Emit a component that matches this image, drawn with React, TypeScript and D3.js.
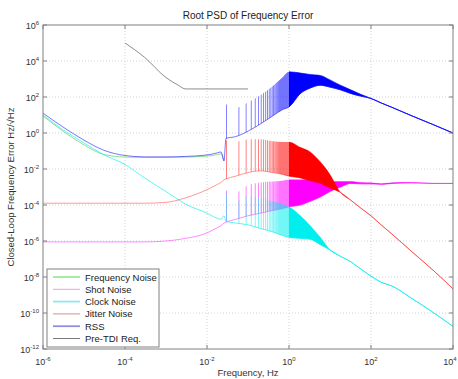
import * as d3 from "d3";

const W = 458;
const H = 379;

// low-frequency part, below the first resonance (Hz)
const freqLow = [1e-6, 3e-6, 1e-5, 3e-5, 1e-4, 3e-4, 1e-3, 3e-3, 1e-2, 1.8e-2, 2.2e-2, 2.6e-2];
const freqNoiseLow = [8.9, 1.32, 0.22, 0.065, 0.046, 0.044, 0.044, 0.046, 0.052, 0.063, 0.07, 0.03];
const shotLow = [8.9e-7, 8.9e-7, 8.9e-7, 8.9e-7, 8.9e-7, 8.9e-7, 1e-6, 1.4e-6, 2.8e-6, 5.6e-6, 7.1e-6, 1e-5];
const clockLow = [10, 1.58, 0.28, 0.063, 0.0178, 3.2e-3, 5.6e-4, 1.12e-4, 3.5e-5, 1.8e-5, 1.6e-5, 2.5e-5];
const jitterLow = [1.26e-4, 1.26e-4, 1.26e-4, 1.26e-4, 1.26e-4, 1.26e-4, 1.4e-4, 2.5e-4, 7.1e-4, 1.4e-3, 1.8e-3, 2.5e-3];
const rssLow = [12.6, 2.24, 0.4, 0.112, 0.056, 0.047, 0.047, 0.05, 0.06, 0.079, 0.089, 0.028];

// resonance comb and high-frequency envelopes (troughs = lower, peaks = upper)
const hiFreq = [0.029, 0.05, 0.1, 0.2, 0.4, 0.7, 1, 1.9, 3.3, 5.8, 10, 18, 32, 56, 100, 180, 320, 1000, 3200, 10000];
const rssUpper = [40, 25, 50, 126, 400, 1260, 2510, 2140, 1780, 1580, 890, 450, 250, 141, 83, 46, 27, 8.9, 3.0, 1.0];
const rssLower = [0.5, 0.63, 1.26, 3.16, 8.9, 20, 28, 158, 316, 450, 355, 250, 158, 112, 83, 46, 27, 8.9, 3.0, 1.0];
const jitterUpper = [0.4, 0.32, 0.45, 0.45, 0.35, 0.32, 0.32, 0.16, 0.089, 0.025, 5e-3, 5e-4, 1.86e-4, 6.8e-5, 2.5e-5, 7.6e-6, 2.5e-6, 2.5e-7, 2.5e-8, 2.2e-9];
const jitterLower = [2.8e-3, 4e-3, 6.3e-3, 7.9e-3, 6.3e-3, 5e-3, 4e-3, 3.2e-3, 2.2e-3, 1.6e-3, 8.9e-4, 5e-4, 1.86e-4, 6.8e-5, 2.5e-5, 7.6e-6, 2.5e-6, 2.5e-7, 2.5e-8, 2.2e-9];
const shotUpper = [6.3e-4, 5e-4, 1.26e-3, 1.78e-3, 2e-3, 2.24e-3, 2.5e-3, 2.5e-3, 2.4e-3, 2.24e-3, 2e-3, 2e-3, 2e-3, 1.78e-3, 1.7e-3, 1.5e-3, 1.7e-3, 1.78e-3, 1.58e-3, 1.58e-3];
const shotLower = [1.12e-5, 1.6e-5, 2.5e-5, 3.5e-5, 5e-5, 6.3e-5, 7.9e-5, 1e-4, 1.6e-4, 2.8e-4, 5.6e-4, 1e-3, 1.58e-3, 1.5e-3, 1.5e-3, 1.4e-3, 1.58e-3, 1.7e-3, 1.58e-3, 1.58e-3];
const clockUpper = [5e-4, 1.6e-4, 3.2e-4, 2.5e-4, 1.6e-4, 1.12e-4, 7.9e-5, 2.5e-5, 7.1e-6, 1.6e-6, 3.2e-7, 1.4e-7, 7.1e-8, 2.8e-8, 1.12e-8, 5e-9, 3.2e-9, 6.3e-10, 1.12e-10, 1.8e-11];
const clockLower = [1.26e-5, 1e-5, 7.9e-6, 5e-6, 3.2e-6, 2e-6, 1.6e-6, 1.4e-6, 1.26e-6, 6.3e-7, 3.2e-7, 1.4e-7, 7.1e-8, 2.8e-8, 1.12e-8, 5e-9, 3.2e-9, 6.3e-10, 1.12e-10, 1.8e-11];

// resonance frequencies of the comb (Hz)
const resonances = [0.03, 0.06, 0.09, 0.12, 0.15, 0.18, 0.21, 0.24, 0.27, 0.3, 0.33, 0.36, 0.39, 0.42, 0.45, 0.48, 0.51, 0.54, 0.57, 0.6, 0.63, 0.66, 0.69, 0.72, 0.75, 0.78, 0.81, 0.84, 0.87, 0.9, 0.93, 0.96, 0.99];

// Pre-TDI requirement
const reqFreq = [1e-4, 3e-4, 1e-3, 2e-3, 3e-3, 0.1];
const reqValue = [1e5, 1.6e4, 1.2e3, 450, 280, 280];

const xExponents = [-6, -4, -2, 0, 2, 4];
const yExponents = [-12, -10, -8, -6, -4, -2, 0, 2, 4, 6];

const legendItems = [
  { label: "Frequency Noise", color: "#8fe88f", width: 1.6 },
  { label: "Shot Noise", color: "#e8a0d8", width: 1 },
  { label: "Clock Noise", color: "#8ee8e8", width: 1.8 },
  { label: "Jitter Noise", color: "#d89090", width: 1 },
  { label: "RSS", color: "#9090e0", width: 1.8 },
  { label: "Pre-TDI Req.", color: "#555", width: 0.8 },
];

const FONT = "'Liberation Sans', Arial, sans-serif";

export default function App() {
  const x = d3.scaleLog().domain([1e-6, 1e4]).range([43, 453]);
  const y = d3.scaleLog().domain([1e-12, 1e6]).range([349, 25]);
  const [x0, x1] = x.range();
  const [y0, y1] = y.range();

  const line = d3.line<[number, number]>().x(d => x(d[0])).y(d => y(d[1])).curve(d3.curveMonotoneX);
  const area = d3.area<[number, number, number]>()
    .x(d => x(d[0])).y0(d => y(d[1])).y1(d => y(d[2])).curve(d3.curveMonotoneX);
  const zip = (f: number[], v: number[]) => f.map((fi, i) => [fi, v[i]] as [number, number]);
  const zip3 = (f: number[], lo: number[], hi: number[]) => f.map((fi, i) => [fi, lo[i], hi[i]] as [number, number, number]);

  const combSeries = [
    { key: "shot", color: "#ff00ff", low: shotLow, lower: shotLower, upper: shotUpper, op: 0.5, tail: 0.5 },
    { key: "clock", color: "#00eeee", low: clockLow, lower: clockLower, upper: clockUpper, op: 0.7, tail: 0.5 },
    { key: "jitter", color: "#ff0000", low: jitterLow, lower: jitterLower, upper: jitterUpper, op: 0.45, tail: 0.35 },
    { key: "rss", color: "#0000ff", low: rssLow, lower: rssLower, upper: rssUpper, op: 0.6, tail: 0.8 },
  ];

  const sup = (e: number) => (
    <>
      <tspan>10</tspan>
      <tspan dy={-4} fontSize={6}>{e}</tspan>
    </>
  );

  return (
    <svg width={W} height={H} style={{ position: "absolute", left: 0, top: 0, background: "#fff" }} fontFamily={FONT}>
      <defs>
        <clipPath id="plot">
          <rect x={x0} y={y1} width={x1 - x0} height={y0 - y1} />
        </clipPath>
        <clipPath id="stripes">
          {resonances.map(f => (
            <rect key={f} x={x(f) - 0.45} y={y1} width={0.9} height={y0 - y1} />
          ))}
        </clipPath>
        <clipPath id="band">
          <rect x={x(1)} y={y1} width={x1 - x(1)} height={y0 - y1} />
        </clipPath>
      </defs>

      <rect x={0} y={0} width={W} height={H} fill="#fff" />

      {/* grid */}
      <g stroke="#c8c8c8" strokeWidth={0.8} strokeDasharray="1,2">
        {xExponents.slice(1, -1).map(e => (
          <line key={e} x1={x(10 ** e)} x2={x(10 ** e)} y1={y1} y2={y0} />
        ))}
        {yExponents.slice(1, -1).map(e => (
          <line key={e} x1={x0} x2={x1} y1={y(10 ** e)} y2={y(10 ** e)} />
        ))}
      </g>

      <g clipPath="url(#plot)" fill="none">
        <path d={line(zip(freqLow, freqNoiseLow)) ?? ""} stroke="#44cc44" strokeOpacity={0.6} strokeWidth={1} />
        {combSeries.map(s => (
          <g key={s.key}>
            <path
              d={line(zip(freqLow, s.low).concat(zip(hiFreq, s.lower))) ?? ""}
              stroke={s.color}
              strokeOpacity={s.op}
              strokeWidth={0.9}
            />
            <path d={area(zip3(hiFreq, s.lower, s.upper)) ?? ""} fill={s.color} fillOpacity={0.55} clipPath="url(#stripes)" />
            <path
              d={area(zip3(hiFreq, s.lower, s.upper)) ?? ""}
              fill={s.color}
              stroke={s.color}
              strokeOpacity={0.8}
              strokeWidth={s.tail}
              clipPath="url(#band)"
            />
          </g>
        ))}
        <path d={line(zip(reqFreq, reqValue)) ?? ""} stroke="#333" strokeOpacity={0.8} strokeWidth={0.7} />
      </g>

      {/* axes box and ticks */}
      <rect x={x0} y={y1} width={x1 - x0} height={y0 - y1} fill="none" stroke="#808080" strokeWidth={1} />
      <g stroke="#808080" strokeWidth={1}>
        {xExponents.map(e => (
          <g key={e}>
            <line x1={x(10 ** e)} x2={x(10 ** e)} y1={y0} y2={y0 - 4} />
            <line x1={x(10 ** e)} x2={x(10 ** e)} y1={y1} y2={y1 + 4} />
          </g>
        ))}
        {yExponents.map(e => (
          <g key={e}>
            <line x1={x0} x2={x0 + 4} y1={y(10 ** e)} y2={y(10 ** e)} />
            <line x1={x1} x2={x1 - 4} y1={y(10 ** e)} y2={y(10 ** e)} />
          </g>
        ))}
      </g>

      {/* tick labels */}
      <g fontSize={9} fill="#333">
        {xExponents.map(e => (
          <text key={e} x={Math.min(x(10 ** e), W - 8)} y={365} textAnchor="middle">{sup(e)}</text>
        ))}
        {yExponents.map(e => (
          <text key={e} x={39} y={y(10 ** e) + 4} textAnchor="end">{sup(e)}</text>
        ))}
      </g>

      <text x={(x0 + x1) / 2} y={19} textAnchor="middle" fontSize={10} fill="#222">Root PSD of Frequency Error</text>
      <text x={(x0 + x1) / 2} y={376} textAnchor="middle" fontSize={9.5} fill="#333">Frequency, Hz</text>
      <text transform={`translate(14,${(y0 + y1) / 2}) rotate(-90)`} textAnchor="middle" fontSize={9.5} fill="#333">
        Closed-Loop Frequency Error Hz/√Hz
      </text>

      {/* legend */}
      <g>
        <rect x={47} y={269} width={112} height={78} fill="#fff" stroke="#808080" strokeWidth={1} />
        {legendItems.map((d, i) => (
          <g key={d.label} transform={`translate(0,${277 + i * 12.3})`}>
            <line x1={53} x2={80} y1={0} y2={0} stroke={d.color} strokeWidth={d.width} />
            <text x={85} y={3.5} fontSize={9.5} fill="#222">{d.label}</text>
          </g>
        ))}
      </g>
    </svg>
  );
}
